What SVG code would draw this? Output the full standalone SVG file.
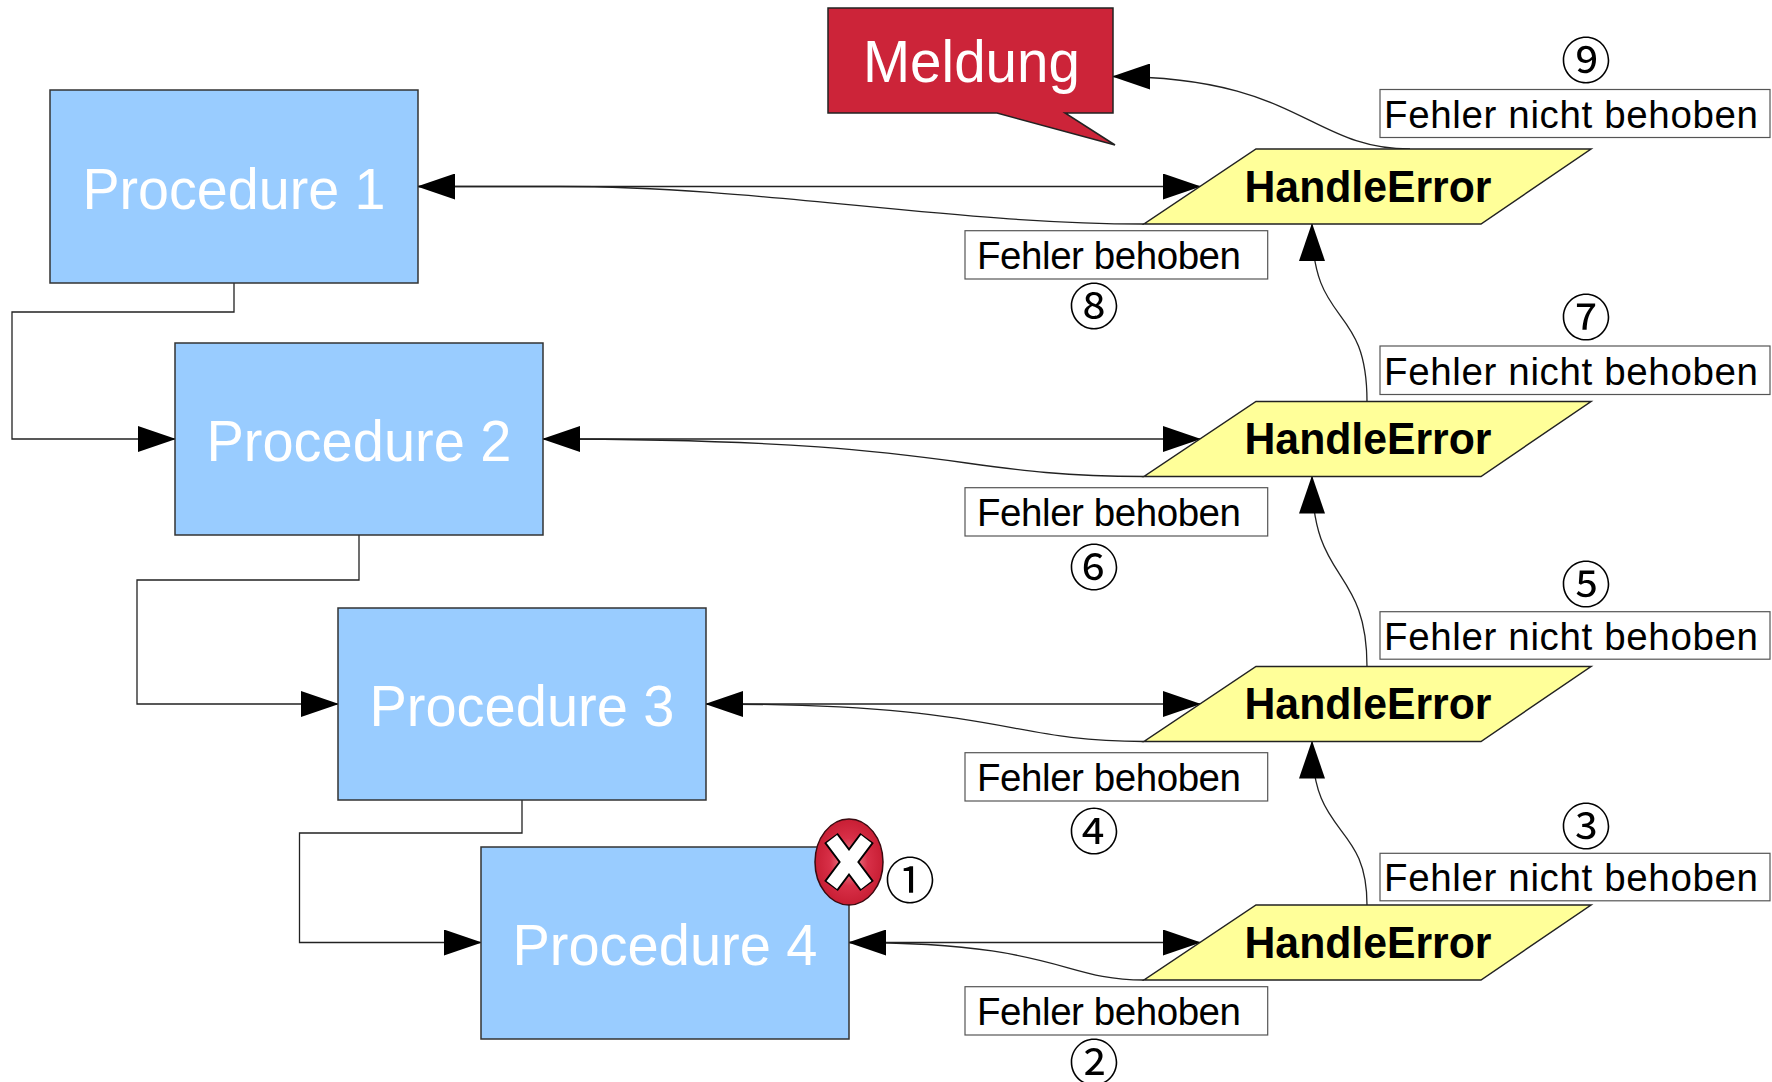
<svg xmlns="http://www.w3.org/2000/svg" width="1772" height="1082" viewBox="0 0 1772 1082">
<defs>
<style>
.proc{fill:#99ccff;stroke:#333;stroke-width:1.5}
.proct{font-family:"Liberation Sans",Arial,sans-serif;font-size:58px;fill:#fff;text-anchor:middle}
.he{fill:#ffff99;stroke:#222;stroke-width:1.5}
.het{font-family:"Liberation Sans",Arial,sans-serif;font-size:44px;font-weight:bold;fill:#000;text-anchor:middle}
.lbl{fill:#fff;stroke:#555;stroke-width:1.2}
.lblt{font-family:"Liberation Sans",Arial,sans-serif;font-size:38.5px;fill:#000}
.num{font-family:"Noto Sans CJK JP","DejaVu Sans",sans-serif;font-size:50px;fill:#000;text-anchor:middle}
.con{fill:none;stroke:#222;stroke-width:1.3}
</style>
<marker id="arr" markerUnits="userSpaceOnUse" markerWidth="38" markerHeight="26" viewBox="0 0 38 26" refX="37" refY="13" orient="auto">
<path d="M0,0 L38,13 L0,26 z" fill="#000"/>
</marker>
<radialGradient id="rg" cx="0.5" cy="0.5" r="0.5">
<stop offset="0" stop-color="#f0a0a8"/>
<stop offset="0.55" stop-color="#d83048"/>
<stop offset="1" stop-color="#c81e34"/>
</radialGradient>
</defs>
<rect width="1772" height="1082" fill="#fff"/>

<g id="connectors">
<path class="con" d="M234,283 V312 H12 V439 H175" marker-end="url(#arr)"/>
<path class="con" d="M359,535 V580 H137 V704 H338" marker-end="url(#arr)"/>
<path class="con" d="M522,800 V833 H299.5 V942.5 H481" marker-end="url(#arr)"/>

<path class="con" d="M418,186.5 H1200" marker-end="url(#arr)"/>
<path class="con" d="M1144,224 C950,224 760,186.5 560,186.5 L418,186.5" marker-end="url(#arr)"/>
<path class="con" d="M543,439 H1200" marker-end="url(#arr)"/>
<path class="con" d="M1144,476.5 C950,476.5 960,439 543,439" marker-end="url(#arr)"/>
<path class="con" d="M706,704 H1200" marker-end="url(#arr)"/>
<path class="con" d="M1144,741.5 C1000,741.5 1010,704 706,704" marker-end="url(#arr)"/>
<path class="con" d="M849,942.5 H1200" marker-end="url(#arr)"/>
<path class="con" d="M1144,980 C1060,980 1060,942.5 849,942.5" marker-end="url(#arr)"/>

<path class="con" d="M1367,401.5 C1367,300 1312,330 1312,224" marker-end="url(#arr)"/>
<path class="con" d="M1367,666.5 C1367,565 1312,585 1312,476.5" marker-end="url(#arr)"/>
<path class="con" d="M1367,905 C1367,820 1312,840 1312,741.5" marker-end="url(#arr)"/>
<path class="con" d="M1410,149 C1310,149 1300,76.5 1113,76.5" marker-end="url(#arr)"/>
</g>

<g id="proc1"><rect class="proc" x="50" y="90" width="368" height="193"/><text class="proct" x="234" y="208.5" textLength="303" lengthAdjust="spacingAndGlyphs">Procedure 1</text></g>
<g id="proc2"><rect class="proc" x="175" y="343" width="368" height="192"/><text class="proct" x="359" y="461" textLength="305" lengthAdjust="spacingAndGlyphs">Procedure 2</text></g>
<g id="proc3"><rect class="proc" x="338" y="608" width="368" height="192"/><text class="proct" x="522" y="726" textLength="305" lengthAdjust="spacingAndGlyphs">Procedure 3</text></g>
<g id="proc4"><rect class="proc" x="481" y="847" width="368" height="192"/><text class="proct" x="665" y="964.5" textLength="305" lengthAdjust="spacingAndGlyphs">Procedure 4</text></g>

<g id="meldung">
<polygon points="828,8 1113,8 1113,113 1065,113 1115,145 997,113 828,113" fill="#cc2439" stroke="#222" stroke-width="1.5"/>
<text x="971.5" y="81.7" font-family="Liberation Sans, Arial, sans-serif" font-size="60" fill="#fff" text-anchor="middle" textLength="217" lengthAdjust="spacingAndGlyphs">Meldung</text>
</g>

<g id="handleerror1"><polygon class="he" points="1256,149 1591,149 1481,224 1144,224"/><text class="het" x="1368" y="201.5" textLength="247" lengthAdjust="spacingAndGlyphs">HandleError</text></g>
<g id="handleerror2"><polygon class="he" points="1256,401.5 1591,401.5 1481,476.5 1144,476.5"/><text class="het" x="1368" y="454" textLength="247" lengthAdjust="spacingAndGlyphs">HandleError</text></g>
<g id="handleerror3"><polygon class="he" points="1256,666.5 1591,666.5 1481,741.5 1144,741.5"/><text class="het" x="1368" y="719" textLength="247" lengthAdjust="spacingAndGlyphs">HandleError</text></g>
<g id="handleerror4"><polygon class="he" points="1256,905 1591,905 1481,980 1144,980"/><text class="het" x="1368" y="957.5" textLength="247" lengthAdjust="spacingAndGlyphs">HandleError</text></g>

<g id="labels-nicht">
<rect class="lbl" x="1380" y="89.5" width="390" height="48"/><text class="lblt" x="1384" y="128" textLength="374" lengthAdjust="spacing">Fehler nicht behoben</text>
<rect class="lbl" x="1380" y="346" width="390" height="48.5"/><text class="lblt" x="1384" y="384.5" textLength="374" lengthAdjust="spacing">Fehler nicht behoben</text>
<rect class="lbl" x="1380" y="611.7" width="390" height="47.5"/><text class="lblt" x="1384" y="649.5" textLength="374" lengthAdjust="spacing">Fehler nicht behoben</text>
<rect class="lbl" x="1380" y="853.3" width="390" height="47.5"/><text class="lblt" x="1384" y="891" textLength="374" lengthAdjust="spacing">Fehler nicht behoben</text>
</g>
<g id="labels-behoben">
<rect class="lbl" x="965" y="230.7" width="302.7" height="48.3"/><text class="lblt" x="977" y="268.7" textLength="264" lengthAdjust="spacing">Fehler behoben</text>
<rect class="lbl" x="965" y="487.7" width="302.7" height="48.3"/><text class="lblt" x="977" y="525.7" textLength="264" lengthAdjust="spacing">Fehler behoben</text>
<rect class="lbl" x="965" y="752.7" width="302.7" height="48.3"/><text class="lblt" x="977" y="790.7" textLength="264" lengthAdjust="spacing">Fehler behoben</text>
<rect class="lbl" x="965" y="986.7" width="302.7" height="48.3"/><text class="lblt" x="977" y="1024.7" textLength="264" lengthAdjust="spacing">Fehler behoben</text>
</g>

<g id="error-icon">
<ellipse cx="849" cy="862" rx="34" ry="43" fill="url(#rg)" stroke="#3a0a10" stroke-width="1.5"/>
<path d="M831,838 L867,886 M867,838 L831,886" stroke="#000" stroke-width="17" fill="none"/>
<path d="M831.8,839 L866.2,885 M866.2,839 L831.8,885" stroke="#fff" stroke-width="13" fill="none"/>
</g>

<g id="numbers">
<text class="num" x="910" y="899">①</text>
<text class="num" x="1094" y="1081">②</text>
<text class="num" x="1586" y="845">③</text>
<text class="num" x="1094" y="850">④</text>
<text class="num" x="1586" y="603">⑤</text>
<text class="num" x="1094" y="586">⑥</text>
<text class="num" x="1586" y="336">⑦</text>
<text class="num" x="1094" y="325">⑧</text>
<text class="num" x="1586" y="79">⑨</text>
</g>
</svg>
